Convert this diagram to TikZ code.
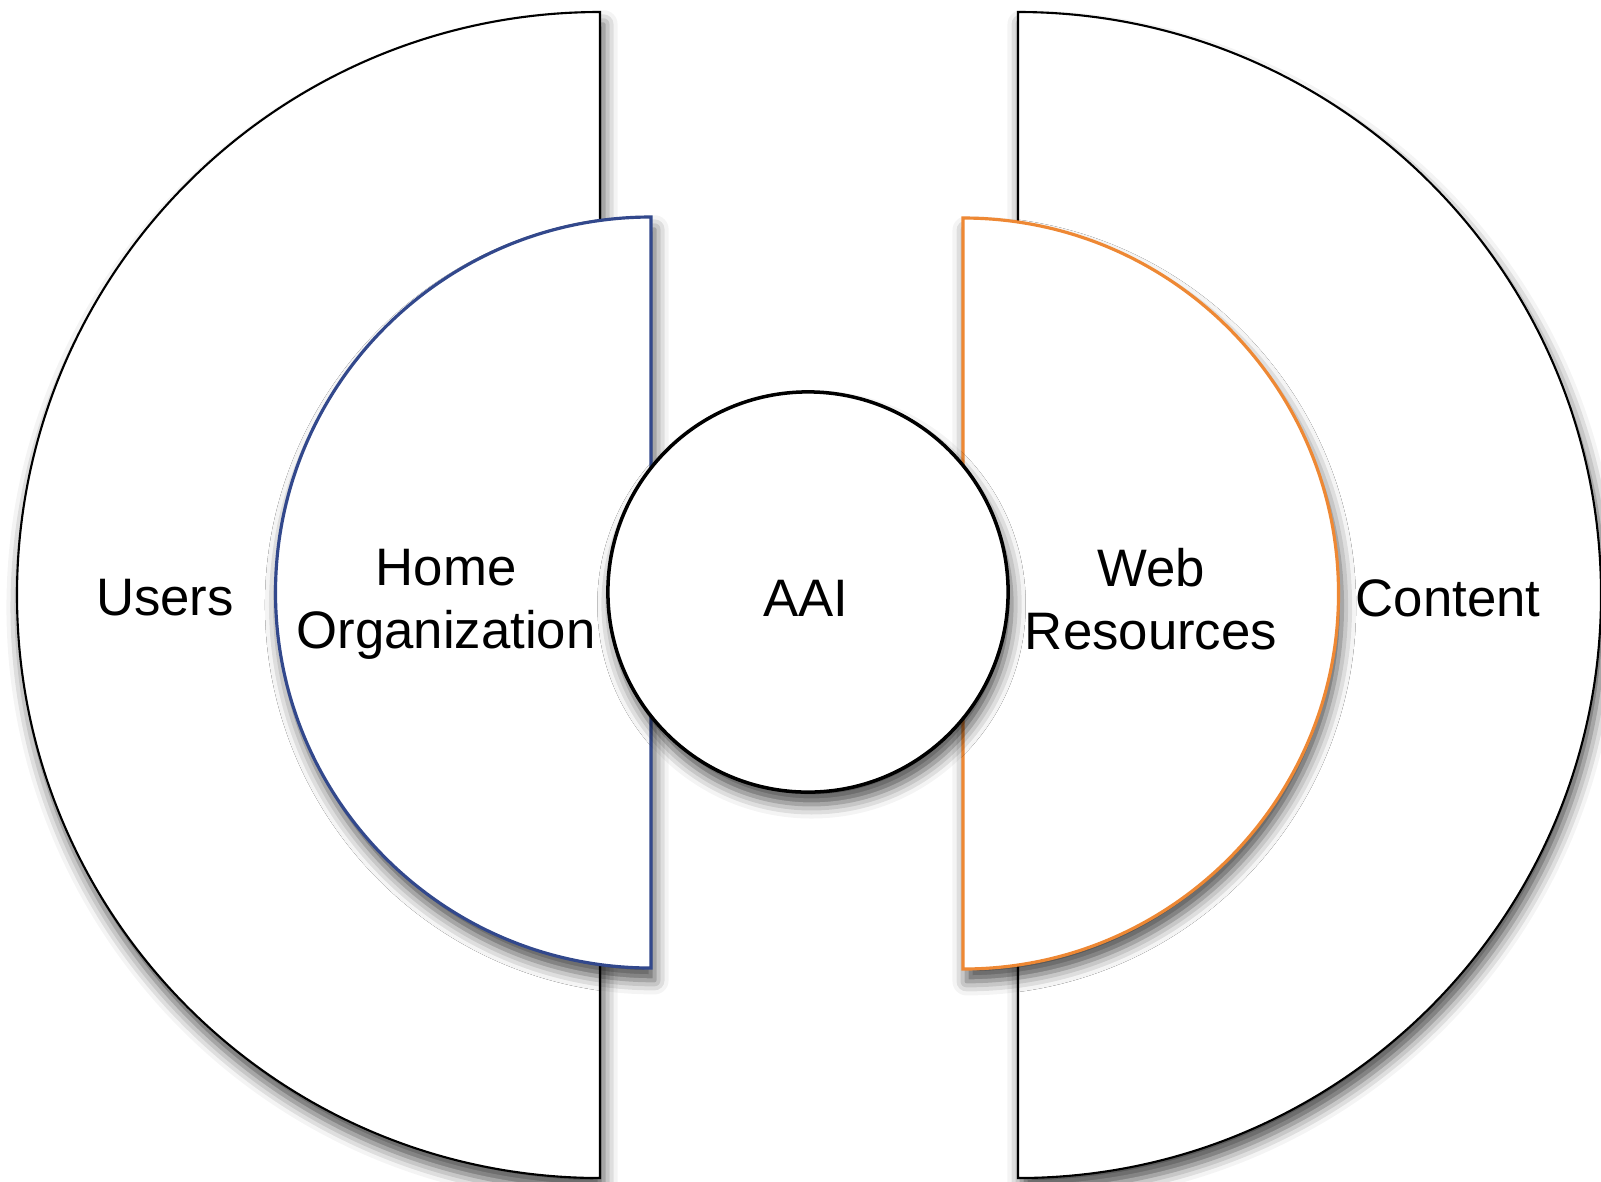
\documentclass[tikz,border=0pt]{standalone}
\usepackage{fontspec}
\setmainfont{Liberation Sans}
\usetikzlibrary{shadows.blur}
\definecolor{homeblue}{RGB}{50,72,140}
\definecolor{weborange}{RGB}{238,136,52}
\begin{document}
\begin{tikzpicture}[x=0.01cm,y=-0.01cm,
  every node/.style={font=\fontsize{15}{17.9}\selectfont, align=center, inner sep=0pt},
  softshadow/.style={blur shadow={shadow xshift=1pt, shadow yshift=-3.5pt, shadow blur radius=4pt, shadow opacity=70}},
  outerhalf/.style={draw=black, line width=0.6pt, fill=white, softshadow},
  innerhalf/.style={line width=0.9pt, fill=white, softshadow},
  aaicircle/.style={circle, draw=black, line width=1pt, fill=white, minimum size=4cm, softshadow}]
\useasboundingbox (0,0) rectangle (1601,1181);
% outer half disks
\draw[outerhalf] (600,12) arc[start angle=-90, end angle=-270, radius=583] -- cycle;
\draw[outerhalf] (1018,12) arc[start angle=-90, end angle=90, radius=583] -- cycle;
% inner half disks
\draw[innerhalf, draw=homeblue] (651,217) arc[start angle=-90, end angle=-270, radius=375.5] -- cycle;
\draw[innerhalf, draw=weborange] (963,218) arc[start angle=-90, end angle=90, radius=375.5] -- cycle;
% centre
\node[aaicircle] (aai) at (808,592) {};
% labels
\node (aailabel) at (806,598) {AAI};
\node (users) at (165,598) {Users};
\node (homeorg) at (446,604) {Home\\Organization};
\node (webres) at (1151,599) {Web\\Resources};
\node (content) at (1448,598) {Content};
\end{tikzpicture}
\end{document}
